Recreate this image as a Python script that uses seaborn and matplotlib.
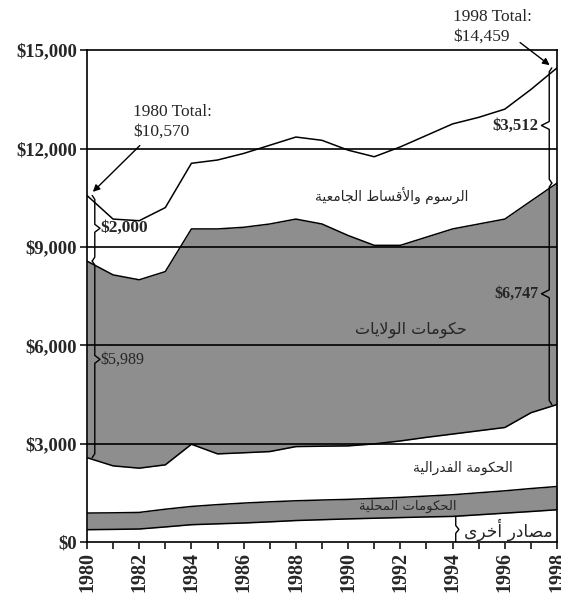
import numpy as np
import pandas as pd
import matplotlib
matplotlib.use("Agg")
import matplotlib.pyplot as plt
import seaborn as sns

# Revenue by source, millions of dollars
years = list(range(1980, 1999))
other = [386, 395, 407, 470, 538, 565, 590, 625, 665, 690, 715, 735, 755, 775, 790, 840, 890, 940, 994]
local = [507, 505, 505, 540, 556, 585, 607, 610, 602, 600, 595, 605, 615, 635, 660, 670, 680, 700, 708]
federal = [1688, 1431, 1349, 1352, 1896, 1546, 1533, 1531, 1651, 1640, 1630, 1660, 1720, 1790, 1850, 1890, 1930, 2310, 2498]
state = [5989, 5819, 5739, 5888, 6560, 6854, 6870, 6934, 6932, 6770, 6410, 6050, 5960, 6100, 6250, 6300, 6350, 6450, 6747]
tuition = [2000, 1700, 1800, 1950, 2000, 2100, 2250, 2400, 2500, 2550, 2600, 2700, 3000, 3100, 3200, 3250, 3350, 3400, 3512]

source_names = ["مصادر أخرى", "الحكومات المحلية", "الحكومة الفدرالية", "حكومات الولايات", "الرسوم والأقساط الجامعية"]
source_colors = ["white", "#8e8e8e", "white", "#8e8e8e", "white"]
y_ticks = [0, 3000, 6000, 9000, 12000, 15000]
y_tick_labels = ["$0", "$3,000", "$6,000", "$9,000", "$12,000", "$15,000"]

# --- minimal Arabic shaping (matplotlib has no complex text layout) ---
FORMS = {
    "\u0627": ("\ufe8d", "\ufe8e", None, None),
    "\u0623": ("\ufe83", "\ufe84", None, None),
    "\u0629": ("\ufe93", "\ufe94", None, None),
    "\u062a": ("\ufe95", "\ufe96", "\ufe97", "\ufe98"),
    "\u062c": ("\ufe9d", "\ufe9e", "\ufe9f", "\ufea0"),
    "\u062d": ("\ufea1", "\ufea2", "\ufea3", "\ufea4"),
    "\u062e": ("\ufea5", "\ufea6", "\ufea7", "\ufea8"),
    "\u062f": ("\ufea9", "\ufeaa", None, None),
    "\u0631": ("\ufead", "\ufeae", None, None),
    "\u0633": ("\ufeb1", "\ufeb2", "\ufeb3", "\ufeb4"),
    "\u0635": ("\ufeb9", "\ufeba", "\ufebb", "\ufebc"),
    "\u0637": ("\ufec1", "\ufec2", "\ufec3", "\ufec4"),
    "\u0639": ("\ufec9", "\ufeca", "\ufecb", "\ufecc"),
    "\u0641": ("\ufed1", "\ufed2", "\ufed3", "\ufed4"),
    "\u0642": ("\ufed5", "\ufed6", "\ufed7", "\ufed8"),
    "\u0643": ("\ufed9", "\ufeda", "\ufedb", "\ufedc"),
    "\u0644": ("\ufedd", "\ufede", "\ufedf", "\ufee0"),
    "\u0645": ("\ufee1", "\ufee2", "\ufee3", "\ufee4"),
    "\u0648": ("\ufeed", "\ufeee", None, None),
    "\u0649": ("\ufeef", "\ufef0", None, None),
    "\u064a": ("\ufef1", "\ufef2", "\ufef3", "\ufef4"),
}
LAM_ALEF = {"\u0627": ("\ufefb", "\ufefc"), "\u0623": ("\ufef7", "\ufef8")}


def shape(text):
    chars = list(text)
    out = []
    i = 0
    while i < len(chars):
        c = chars[i]
        if c not in FORMS:
            out.append(c)
            i += 1
            continue
        prev = chars[i - 1] if i > 0 else None
        nxt = chars[i + 1] if i + 1 < len(chars) else None
        joins_prev = prev in FORMS and FORMS[prev][2] is not None
        if c == "\u0644" and nxt in LAM_ALEF:
            out.append(LAM_ALEF[nxt][1 if joins_prev else 0])
            i += 2
            continue
        joins_next = FORMS[c][2] is not None and nxt in FORMS
        iso, fin, ini, med = FORMS[c]
        if joins_prev and joins_next:
            out.append(med)
        elif joins_prev:
            out.append(fin)
        elif joins_next:
            out.append(ini)
        else:
            out.append(iso)
        i += 1
    return "".join(reversed(out))


def brace(ax, x, y0, y1, tip, curl):
    # vertical curly brace; tip > 0 points right, curl is the end hook
    ym = (y0 + y1) / 2
    e = 120
    xs = [x - curl, x, x, x + tip, x, x, x - curl]
    ys = [y0, y0 + e, ym - e, ym, ym + e, y1 - e, y1]
    ax.plot(xs, ys, color="black", lw=1.0, zorder=6, solid_joinstyle="round")


def main():
    sns.set_theme(style="ticks")
    plt.rcParams["font.family"] = ["Liberation Serif", "DejaVu Serif"]

    df = pd.DataFrame({"year": years, "other": other, "local": local, "federal": federal,
                       "state": state, "tuition": tuition})
    layers = df[["other", "local", "federal", "state", "tuition"]].cumsum(axis=1)

    fig = plt.figure(figsize=(5.61, 5.96), dpi=100)
    ax = fig.add_axes([0.155, 0.09, 0.838, 0.826])

    bottom = np.zeros(len(years))
    for col, color in zip(layers.columns, source_colors):
        top = layers[col].values
        ax.fill_between(df["year"], bottom, top, color=color, lw=0, zorder=1)
        sns.lineplot(x=df["year"], y=top, color="black", lw=1.1, ax=ax, zorder=4)
        bottom = top

    for y in y_ticks[1:-1]:
        ax.axhline(y, color="black", lw=1.2, zorder=3)

    ax.set_xlim(1980, 1998)
    ax.set_ylim(0, 15000)
    ax.set_xticks(years)
    ax.set_xticklabels([str(y) if y % 2 == 0 else "" for y in years], rotation=90,
                       fontsize=14.5, fontweight="bold")
    ax.set_yticks(y_ticks)
    ax.set_yticklabels(y_tick_labels, fontsize=13.5, fontweight="bold")
    ax.tick_params(axis="both", direction="out", length=5, width=1.1, color="black", pad=2)
    ax.set_xlabel("")
    ax.set_ylabel("")
    for s in ax.spines.values():
        s.set_color("black")
        s.set_linewidth(1.2)

    # braces for 1980 and 1998 values
    tot80 = layers["tuition"].iloc[0]
    st_top80 = layers["state"].iloc[0]
    st_bot80 = layers["federal"].iloc[0]
    brace(ax, 1980.3, st_top80, tot80, 0.2, 0.1)
    brace(ax, 1980.3, st_bot80, st_top80, 0.2, 0.1)
    ax.text(1980.5, (st_top80 + tot80) / 2, "$2,000", fontsize=12.5, fontweight="bold",
            va="center", ha="left", zorder=7)
    ax.text(1980.5, (st_bot80 + st_top80) / 2, "$5,989", fontsize=11.5, va="center",
            ha="left", zorder=7)

    tot98 = layers["tuition"].iloc[-1]
    st_top98 = layers["state"].iloc[-1]
    st_bot98 = layers["federal"].iloc[-1]
    brace(ax, 1997.7, st_top98, tot98, -0.3, -0.1)
    brace(ax, 1997.7, st_bot98, st_top98, -0.3, -0.1)
    ax.text(1997.3, (st_top98 + tot98) / 2, "$3,512", fontsize=12, fontweight="bold",
            va="center", ha="right", zorder=7)
    ax.text(1997.3, (st_bot98 + st_top98) / 2, "$6,747", fontsize=11.5, fontweight="bold",
            va="center", ha="right", zorder=7)

    oth94 = layers["other"].iloc[years.index(1994)]
    brace(ax, 1994.12, 0, oth94, 0.12, 0.0)

    # total annotations
    ax.text(1981.76, 12800, "1980 Total:\n$10,570", fontsize=12.5, ha="left", va="center",
            linespacing=1.3, zorder=7)
    ax.annotate("", xy=(1980.15, tot80 + 50), xytext=(1982.1, 12150),
                arrowprops=dict(arrowstyle="-|>", color="black", lw=1.0, mutation_scale=10),
                zorder=7)
    ax.text(1994.02, 15714, "1998 Total:\n$14,459", fontsize=12.5, ha="left", va="center",
            linespacing=1.3, zorder=7, clip_on=False)
    ax.annotate("", xy=(1997.8, tot98 + 30), xytext=(1996.5, 15280),
                arrowprops=dict(arrowstyle="-|>", color="black", lw=1.0, mutation_scale=10),
                annotation_clip=False, zorder=7)

    # Arabic source labels
    arabic_font = ["DejaVu Sans"]
    label_pos = [(1996.13, 386), (1992.3, 1085), (1994.4, 2270), (1992.4, 6480), (1991.66, 10570)]
    label_size = [12.3, 9.5, 10, 11.5, 10]
    for name, (x, y), fs in zip(source_names, label_pos, label_size):
        ax.text(x, y, shape(name), family=arabic_font, fontsize=fs, ha="center", va="center",
                zorder=7)

    fig.savefig("out.png", dpi=100)
    plt.close(fig)


if __name__ == "__main__":
    main()
